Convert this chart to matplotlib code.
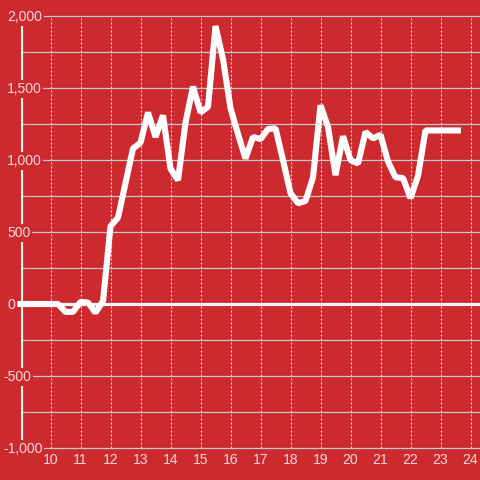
import matplotlib
matplotlib.use("Agg")
import matplotlib.pyplot as plt
import matplotlib.transforms as mtransforms

# ---- data ----
hours = [9.0, 9.25, 9.5, 9.75, 10.0, 10.25, 10.5, 10.75, 11.0, 11.25, 11.5, 11.75,
         12.0, 12.25, 12.5, 12.75, 13.0, 13.25, 13.5, 13.75, 14.0, 14.25, 14.5, 14.75,
         15.0, 15.25, 15.5, 15.75, 16.0, 16.25, 16.5, 16.75, 17.0, 17.25, 17.5, 17.75,
         18.0, 18.25, 18.5, 18.75, 19.0, 19.25, 19.5, 19.75, 20.0, 20.25, 20.5, 20.75,
         21.0, 21.25, 21.5, 21.75, 22.0, 22.25, 22.5, 22.75, 23.0, 23.25, 23.5, 23.58]
values = [0, 0, 0, 0, 0, 0, -55, -55, 15, 10, -60, 20,
          540, 600, 840, 1080, 1120, 1330, 1160, 1310, 940, 860, 1260, 1510,
          1330, 1370, 1930, 1700, 1360, 1180, 1010, 1160, 1145, 1215, 1220, 1000,
          770, 700, 715, 880, 1380, 1230, 895, 1165, 1000, 975, 1195, 1150,
          1175, 990, 880, 875, 735, 890, 1205, 1205, 1205, 1205, 1205, 1205]
x_ticks = [10, 11, 12, 13, 14, 15, 16, 17, 18, 19, 20, 21, 22, 23, 24]
y_labels = [2000, 1500, 1000, 500, 0, -500, -1000]
y_grid = [-1000, -750, -500, -250, 0, 250, 500, 750, 1000, 1250, 1500, 1750, 2000]

# ---- style ----
RED = "#cc2a2f"
TXT = "#f5d6d7"
GRID = "#c8c8c8"
FONT = "Liberation Sans"
FS = 10.08
W = H = 480
plt.rcParams["lines.scale_dashes"] = False

fig = plt.figure(figsize=(4.8, 4.8), dpi=100, facecolor=RED)
left_px, right_px, top_px, bot_px = 20.5, 480, 16, 448
ax = fig.add_axes([left_px / W, (H - bot_px) / H, (right_px - left_px) / W, (bot_px - top_px) / H])
ax.set_facecolor(RED)
for s in ax.spines.values():
    s.set_visible(False)

ax.set_xlim(9, 9 + (right_px - left_px) / 30.0)
ax.set_ylim(-1000, 2000)

# horizontal grid
for v in y_grid:
    ax.axhline(v, color=GRID, lw=0.9, zorder=1, clip_on=False)
# vertical dotted grid
for t in x_ticks:
    ax.axvline(t, color="#e0e0e0", lw=0.8, dashes=(1.44, 1.44), zorder=1)

# y axis line & zero line
ax.axvline(9, color="#efefef", lw=2.3, zorder=2)
ax.axhline(0, color="#f6f6f6", lw=2.3, zorder=2)

# data line
ax.plot(hours, values, color="white", lw=4.4, solid_joinstyle="bevel",
        solid_capstyle="projecting", zorder=3, clip_on=False)

# x tick labels
ax.set_xticks(x_ticks)
ax.set_xticklabels([str(t) for t in x_ticks], fontfamily=FONT, fontsize=FS, color=TXT)
ax.tick_params(axis="x", length=0, pad=3.5)
ax.set_yticks([])

# y labels with background boxes
blend = mtransforms.blended_transform_factory(fig.transFigure, ax.transData)
for v in y_labels:
    lbl = f"{v:,}"
    xpx = 3 if v < 0 else 7
    tr = mtransforms.offset_copy(blend, fig=fig, x=0, y=-5, units="dots")
    fig.text(xpx / W, v, lbl, transform=tr, ha="left", va="baseline",
             fontfamily=FONT, fontsize=FS, color=TXT, zorder=5,
             bbox=dict(boxstyle="square,pad=0.12", facecolor=RED, edgecolor="none"))

fig.savefig("out.png", dpi=100, facecolor=RED)
